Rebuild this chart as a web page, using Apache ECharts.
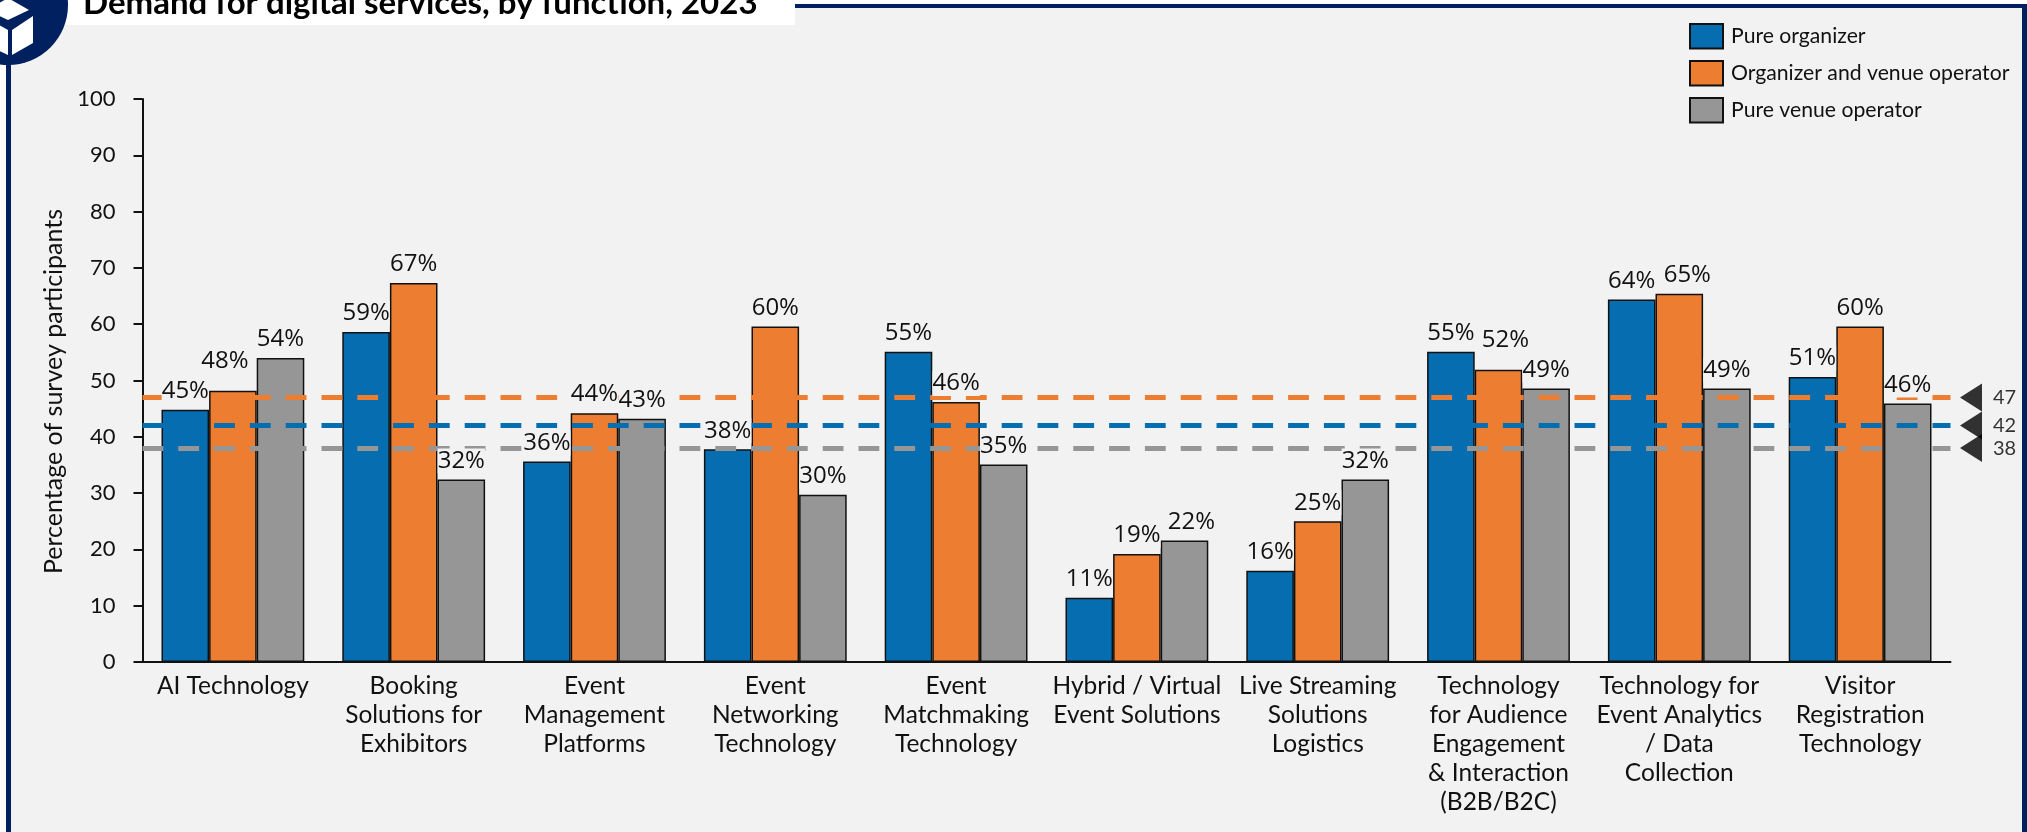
<!DOCTYPE html>
<html><head><meta charset="utf-8"><title>Demand for digital services</title>
<style>html,body{margin:0;padding:0;background:#fff}#c{width:2027px;height:832px}</style>
<script src="https://cdn.jsdelivr.net/npm/echarts@6/dist/echarts.min.js"></script></head>
<body><div id="c"></div>
<script>
const titleText = 'Demand for digital services, by function, 2023';
const yAxisName = 'Percentage of survey participants';
const categories = ['AI Technology','Booking\nSolutions for\nExhibitors','Event\nManagement\nPlatforms','Event\nNetworking\nTechnology','Event\nMatchmaking\nTechnology','Hybrid / Virtual\nEvent Solutions','Live Streaming\nSolutions\nLogistics','Technology\nfor Audience\nEngagement\n& Interaction\n(B2B/B2C)','Technology for\nEvent Analytics\n/ Data\nCollection','Visitor\nRegistration\nTechnology'];
const seriesNames = ['Pure organizer','Organizer and venue operator','Pure venue operator'];
const pureOrganizer = [44.8,58.6,35.6,37.8,55.1,11.4,16.2,55.1,64.4,50.6];
const organizerVenue = [48.2,67.3,44.2,59.6,46.2,19.2,25.0,51.9,65.4,59.6];
const pureVenue = [54.0,32.4,43.2,29.7,35.1,21.6,32.4,48.6,48.6,45.9];
const averages = [42,47,38];
const colors = ['#066DB0','#ED7D31','#969696'];
const allValues = [pureOrganizer,organizerVenue,pureVenue];
const FONT = 'Lato';
const LABEL_FONT = '"Open Sans"';
const labelNudges = {'1:0':[-8,-11],'1:7':[7,-11],'1:8':[8,0],'2:5':[7,0]};
const GRID = {left:142.5,top:99,width:1808,height:563};

const barSeries = allValues.map((vals,i)=>({
  name:seriesNames[i],type:'bar',data:vals,barWidth:47.6,barGap:0,z:2,
  itemStyle:{color:colors[i],borderColor:'#111',borderWidth:1.5},
  markLine:{silent:true,symbol:'none',z:5,animation:false,label:{show:false},
    lineStyle:{color:colors[i],width:5,type:[20.8,15],opacity:1},
    emphasis:{disabled:true},data:[{yAxis:averages[i]}]}
}));
const labelSeries = allValues.map((vals,i)=>({
  name:'label'+i,type:'bar',xAxisIndex:1,yAxisIndex:1,barWidth:47.6,barGap:0,z:10,silent:true,
  itemStyle:{color:'transparent'},
  data:vals.map((v,j)=>{
    const n=labelNudges[i+':'+j];
    return n?{value:v,label:{offset:n}}:v;
  }),
  label:{show:true,position:'top',distance:6,fontFamily:LABEL_FONT,fontSize:24,color:'#111',
    backgroundColor:'#f2f2f2',lineHeight:25,padding:[0,0,0,0],
    formatter:p=>Math.round(p.value)+'%'}
}));
const triangleSeries = {
  name:'avg',type:'scatter',xAxisIndex:2,yAxisIndex:2,z:7,silent:true,
  symbol:'triangle',symbolRotate:90,symbolSize:[28,22],
  itemStyle:{color:'#000'},
  data:averages.map((v,i)=>({value:[0.5,v]})),
  label:{show:true,position:'right',distance:4,offset:[7,0],fontFamily:FONT,fontSize:20,color:'#000',formatter:p=>String(p.value[1])}
};
const chart = echarts.init(document.getElementById('c'),null,{renderer:'canvas'});
chart.setOption({
  animation:false,backgroundColor:'#f2f2f2',
  title:{text:titleText,left:83,top:-16,padding:0,textStyle:{fontFamily:FONT,fontWeight:'bold',fontSize:33,color:'#000',lineHeight:38},z:20},
  legend:{data:seriesNames,orient:'vertical',left:1689,top:23,padding:0,itemWidth:33,itemHeight:24.5,itemGap:10.5,selectedMode:false,icon:'rect',
    textStyle:{fontFamily:FONT,fontSize:21.2,lineHeight:24,color:'#111',padding:[0,0,0,3]}},
  grid:[GRID,{left:1960,top:GRID.top,width:22,height:GRID.height}],
  xAxis:[
    {type:'category',data:categories,axisTick:{show:false},axisLine:{lineStyle:{color:'#111',width:2}},
     axisLabel:{interval:0,margin:9,fontFamily:FONT,fontSize:24.5,lineHeight:29.2,color:'#111'}},
    {type:'category',data:categories,show:false},
    {type:'value',gridIndex:1,min:0,max:1,show:false}
  ],
  yAxis:[
    {type:'value',min:0,max:100,interval:10,splitLine:{show:false},name:yAxisName,nameLocation:'middle',nameGap:74,
     nameTextStyle:{fontFamily:FONT,fontSize:25,color:'#111',padding:[0,22,0,0]},
     axisLine:{show:true,lineStyle:{color:'#111',width:2}},axisTick:{show:true,length:9,lineStyle:{color:'#111',width:2}},
     axisLabel:{margin:27,fontFamily:FONT,fontSize:22,color:'#111'}},
    {type:'value',min:0,max:100,show:false},
    {type:'value',gridIndex:1,min:0,max:100,show:false}
  ],
  series:[...barSeries,...labelSeries,triangleSeries],
  graphic:[
    {type:'rect',silent:true,z:0,shape:{x:0,y:0,width:6,height:832},style:{fill:'#fff'}},
    {type:'rect',silent:true,z:0,shape:{x:0,y:0,width:2027,height:4},style:{fill:'#fff'}},
    {type:'rect',silent:true,z:1,shape:{x:6,y:60,width:5,height:772},style:{fill:'#002060'}},
    {type:'rect',silent:true,z:1,shape:{x:795,y:4,width:1232,height:4},style:{fill:'#002060'}},
    {type:'rect',silent:true,z:1,shape:{x:2022,y:4,width:5,height:828},style:{fill:'#002060'}},
    {type:'rect',silent:true,z:1,shape:{x:40,y:0,width:755,height:25},style:{fill:'#fff'}},
    {type:'circle',silent:true,z:2,shape:{cx:8,cy:5,r:60},style:{fill:'#002060'}},
    {type:'polygon',silent:true,z:3,shape:{points:[[8,-2],[29,10],[8,20],[-13,10]]},style:{fill:'#fff'}},
    {type:'polygon',silent:true,z:3,shape:{points:[[12,30],[33,16],[33,43],[12,55]]},style:{fill:'#fff'}},
    {type:'polygon',silent:true,z:3,shape:{points:[[-17,16],[8,30],[8,55],[-17,43]]},style:{fill:'#fff'}}
  ]
});
</script></body></html>
